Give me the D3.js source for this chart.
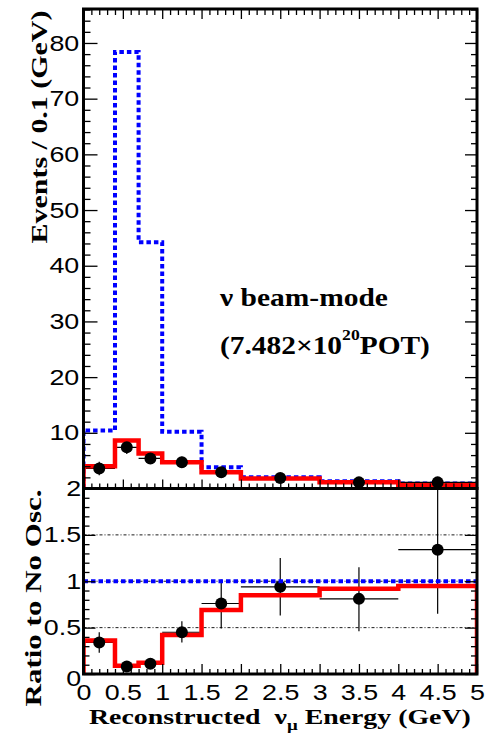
<!DOCTYPE html>
<html>
<head>
<meta charset="utf-8">
<script src="https://cdn.jsdelivr.net/npm/d3@7"></script>
<style>
  body { margin: 0; background: white; }
</style>
</head>
<body>
<div id="container"></div>
<script>
let w = 485;
let h = 737;

// histogram binning (GeV) and contents
let binEdges = [0, 0.4, 0.7, 1.0, 1.5, 2.0, 3.0, 4.0, 5.0];
let noOscEvents = [10.4, 78.4, 44.2, 10.2, 3.8, 2.0, 1.3, 0.9];
let bestFitEvents = [4.0, 8.6, 6.3, 4.7, 2.9, 1.8, 1.1, 0.6];
let dataEvents = [3.6, 7.4, 5.4, 4.7, 2.9, 1.9, 1.1, 1.1];
let dataEventsErr = [1.2, 1.2, 1.0, 1.0, 0.8, 0.6, 0.5, 0.5];

let bestFitRatio = [0.36, 0.09, 0.12, 0.42, 0.69, 0.85, 0.92, 0.95];
let dataRatio = [0.34, 0.08, 0.11, 0.45, 0.76, 0.94, 0.81, 1.34];
let dataRatioErrLo = [0.11, 0.03, 0.03, 0.11, 0.27, 0.31, 0.35, 0.69];
let dataRatioErrHi = [0.11, 0.03, 0.03, 0.12, 0.26, 0.31, 0.34, 0.70];
let noOscRatio = 1;

let xTicks = [0, 0.5, 1, 1.5, 2, 2.5, 3, 3.5, 4, 4.5, 5];
let topYTicks = [10, 20, 30, 40, 50, 60, 70, 80];
let lowYTicks = [0, 0.5, 1, 1.5, 2];
let gridRatios = [0.5, 1, 1.5];

let red = "#ff0000";
let blue = "#0000ff";
let sans = "'Liberation Sans', Arial, sans-serif";
let serif = "'Liberation Serif', 'Times New Roman', serif";
let stretch = 1.22;

let xLeft = 83.5, xRight = 477;
let topTop = 9, split = 488.5, lowBottom = 674;

let x = d3.scaleLinear().domain([0, 5]).range([xLeft, xRight]);
let yTop = d3.scaleLinear().domain([0, 86.1]).range([split, topTop]);
let yLow = d3.scaleLinear().domain([0, 2]).range([lowBottom, split]);

let viz = d3.select("#container")
  .append("svg")
    .attr("width", w)
    .attr("height", h)
    .style("background-color", "white")
;

let defs = viz.append("defs");
defs.append("clipPath").attr("id", "clipTop")
  .append("rect")
    .attr("x", xLeft).attr("y", topTop)
    .attr("width", xRight - xLeft).attr("height", split - topTop);
defs.append("clipPath").attr("id", "clipLow")
  .append("rect")
    .attr("x", xLeft).attr("y", split)
    .attr("width", xRight - xLeft).attr("height", lowBottom - split);

let centers = binEdges.slice(0, -1).map((e, i) => (e + binEdges[i + 1]) / 2);

function stepPoints(vals) {
  let pts = [[binEdges[0], 0]];
  vals.forEach((v, i) => pts.push([binEdges[i], v]));
  pts.push([binEdges[binEdges.length - 1], vals[vals.length - 1]]);
  pts.push([binEdges[binEdges.length - 1], 0]);
  return pts;
}

function stepLine(yScale) {
  return d3.line()
    .x(d => x(d[0]))
    .y(d => yScale(d[1]))
    .curve(d3.curveStepAfter);
}

function minorValues(lo, hi, step, majors) {
  return d3.range(lo, hi + step / 2, step)
    .map(v => +v.toFixed(3))
    .filter(v => !majors.some(m => Math.abs(m - v) < 1e-6));
}

function styleAxis(g) {
  g.select(".domain").remove();
  g.selectAll("line").attr("stroke", "black").attr("stroke-width", 1.3);
  g.attr("font-family", sans).attr("font-size", 22);
  g.selectAll("text").attr("fill", "black");
}

// error bars + markers for one panel
function drawPoints(panel, vals, errLo, errHi, yScale, clip, hist) {
  let pts = panel.selectAll(".pt").data(vals).enter()
    .append("g")
      .attr("class", "pt")
      .attr("clip-path", clip)
  ;
  pts.append("line")
    .attr("x1", (d, i) => x(centers[i])).attr("x2", (d, i) => x(centers[i]))
    .attr("y1", (d, i) => yScale(d - errLo[i]))
    .attr("y2", (d, i) => yScale(d + errHi[i]))
    .attr("stroke", "black").attr("stroke-width", 1.2)
  ;
  pts.append("line")
    .attr("x1", (d, i) => x(binEdges[i])).attr("x2", (d, i) => x(binEdges[i + 1]))
    .attr("y1", d => yScale(d)).attr("y2", d => yScale(d))
    .attr("stroke", "black").attr("stroke-width", 1.2)
  ;
  panel.append("path")
    .datum(stepPoints(hist))
    .attr("clip-path", clip)
    .attr("d", stepLine(yScale))
    .attr("fill", "none")
    .attr("stroke", red)
    .attr("stroke-width", 4.5)
  ;
  panel.selectAll(".dot").data(vals).enter()
    .append("circle")
      .attr("class", "dot")
      .attr("clip-path", clip)
      .attr("cx", (d, i) => x(centers[i]))
      .attr("cy", d => yScale(d))
      .attr("r", 6)
      .attr("fill", "black")
  ;
}

// ---------- upper panel ----------
let topPanel = viz.append("g").attr("class", "top");

topPanel.append("path")
  .datum(stepPoints(noOscEvents))
  .attr("clip-path", "url(#clipTop)")
  .attr("d", stepLine(yTop))
  .attr("fill", "none")
  .attr("stroke", blue)
  .attr("stroke-width", 4)
  .attr("stroke-dasharray", "4.5,3")
;

drawPoints(topPanel, dataEvents, dataEventsErr, dataEventsErr, yTop, "url(#clipTop)", bestFitEvents);

// ---------- lower panel ----------
let lowPanel = viz.append("g").attr("class", "low");

lowPanel.selectAll(".grid").data(gridRatios).enter()
  .append("line")
    .attr("class", "grid")
    .attr("x1", xLeft).attr("x2", xRight)
    .attr("y1", d => yLow(d)).attr("y2", d => yLow(d))
    .attr("stroke", "black")
    .attr("stroke-width", 0.9)
    .attr("stroke-dasharray", "3,2,1,2")
;

drawPoints(lowPanel, dataRatio, dataRatioErrLo, dataRatioErrHi, yLow, "url(#clipLow)", bestFitRatio);

lowPanel.append("line") // no oscillation reference
  .attr("x1", x(0)).attr("x2", x(5))
  .attr("y1", yLow(noOscRatio)).attr("y2", yLow(noOscRatio))
  .attr("stroke", blue)
  .attr("stroke-width", 4)
  .attr("stroke-dasharray", "4.5,3")
;

// ---------- axes / ticks ----------
let xMinor = minorValues(0, 5, 0.1, xTicks);
let topMinor = minorValues(0, 86, 2, topYTicks.concat([0]));
let lowMinor = minorValues(0, 2, 0.1, lowYTicks);

// upper panel
viz.append("g").attr("transform", "translate(" + xLeft + ",0)")
  .call(d3.axisLeft(yTop).tickValues(topYTicks).tickSize(-14).tickPadding(3.5).tickSizeOuter(0))
  .call(styleAxis)
  .call(g => g.selectAll("text").attr("transform", "scale(" + stretch + ",1)"))
;
viz.append("g").attr("transform", "translate(" + xLeft + ",0)")
  .call(d3.axisLeft(yTop).tickValues(topMinor).tickSize(-7).tickFormat("").tickSizeOuter(0))
  .call(styleAxis)
;
viz.append("g").attr("transform", "translate(" + xRight + ",0)")
  .call(d3.axisRight(yTop).tickValues(topYTicks).tickSize(-12).tickFormat("").tickSizeOuter(0))
  .call(styleAxis)
;
viz.append("g").attr("transform", "translate(" + xRight + ",0)")
  .call(d3.axisRight(yTop).tickValues(topMinor).tickSize(-6).tickFormat("").tickSizeOuter(0))
  .call(styleAxis)
;
viz.append("g").attr("transform", "translate(0," + topTop + ")")
  .call(d3.axisTop(x).tickValues(xTicks).tickSize(-10).tickFormat("").tickSizeOuter(0))
  .call(styleAxis)
;
viz.append("g").attr("transform", "translate(0," + topTop + ")")
  .call(d3.axisTop(x).tickValues(xMinor).tickSize(-6).tickFormat("").tickSizeOuter(0))
  .call(styleAxis)
;
viz.append("g").attr("transform", "translate(0," + split + ")")
  .call(d3.axisBottom(x).tickValues(xTicks).tickSize(-9).tickFormat("").tickSizeOuter(0))
  .call(styleAxis)
;
viz.append("g").attr("transform", "translate(0," + split + ")")
  .call(d3.axisBottom(x).tickValues(xMinor).tickSize(-5).tickFormat("").tickSizeOuter(0))
  .call(styleAxis)
;

// lower panel
viz.append("g").attr("transform", "translate(" + xLeft + ",0)")
  .call(d3.axisLeft(yLow).tickValues(lowYTicks).tickSize(-12).tickPadding(2).tickFormat(d3.format("~g")).tickSizeOuter(0))
  .call(styleAxis)
  .call(g => g.selectAll("text").attr("transform", "scale(" + stretch + ",1)"))
  .call(g => g.selectAll(".tick").filter(d => d === 0).select("text").attr("dy", "0.5em"))
;
viz.append("g").attr("transform", "translate(" + xLeft + ",0)")
  .call(d3.axisLeft(yLow).tickValues(lowMinor).tickSize(-6).tickFormat("").tickSizeOuter(0))
  .call(styleAxis)
;
viz.append("g").attr("transform", "translate(" + xRight + ",0)")
  .call(d3.axisRight(yLow).tickValues(lowYTicks).tickSize(-12).tickFormat("").tickSizeOuter(0))
  .call(styleAxis)
;
viz.append("g").attr("transform", "translate(" + xRight + ",0)")
  .call(d3.axisRight(yLow).tickValues(lowMinor).tickSize(-6).tickFormat("").tickSizeOuter(0))
  .call(styleAxis)
;
viz.append("g").attr("transform", "translate(0," + lowBottom + ")")
  .call(d3.axisBottom(x).tickValues(xTicks).tickSize(-10).tickPadding(10.5).tickFormat(d3.format("~g")).tickSizeOuter(0))
  .call(styleAxis)
  .call(g => g.selectAll("text").attr("transform", "scale(" + stretch + ",1)"))
;
viz.append("g").attr("transform", "translate(0," + lowBottom + ")")
  .call(d3.axisBottom(x).tickValues(xMinor).tickSize(-5).tickFormat("").tickSizeOuter(0))
  .call(styleAxis)
;

// frames
viz.append("rect") // upper frame
  .attr("x", xLeft).attr("y", topTop)
  .attr("width", xRight - xLeft).attr("height", split - topTop)
  .attr("fill", "none").attr("stroke", "black").attr("stroke-width", 3)
;
viz.append("rect") // lower frame
  .attr("x", xLeft).attr("y", split)
  .attr("width", xRight - xLeft).attr("height", lowBottom - split)
  .attr("fill", "none").attr("stroke", "black").attr("stroke-width", 3)
;

// ---------- titles / labels ----------
// place a text group and stretch it horizontally to a target width
function fitText(cx, cy, rot, width, size, anchor, build) {
  let g = viz.append("g");
  let t = g.append("text")
    .attr("font-family", serif)
    .attr("font-weight", "bold")
    .attr("font-size", size)
    .attr("fill", "black")
    .attr("text-anchor", anchor);
  build(t);
  let tw = t.node().getComputedTextLength();
  let s = width / tw;
  g.attr("transform", "translate(" + cx + "," + cy + ") rotate(" + rot + ") scale(" + s + ",1)");
  return g;
}

fitText(47, 127, -90, 233, 24, "middle", t => t.text("Events / 0.1 (GeV)"));
fitText(41, 598, -90, 217, 24, "middle", t => t.text("Ratio to No Osc."));

fitText(89, 724, 0, 382, 22, "start", t => {
  t.append("tspan").text("Reconstructed\u00a0\u00a0ν");
  t.append("tspan").attr("font-size", 15).attr("dy", 6).text("μ");
  t.append("tspan").attr("dy", -6).text(" Energy (GeV)");
});

fitText(220, 306, 0, 168, 25, "start", t => t.text("ν beam-mode"));
fitText(220, 354, 0, 210, 25, "start", t => {
  t.append("tspan").text("(7.482×10");
  t.append("tspan").attr("font-size", 15).attr("dy", -14).text("20");
  t.append("tspan").attr("dy", 14).text("POT)");
});
</script>
</body>
</html>
